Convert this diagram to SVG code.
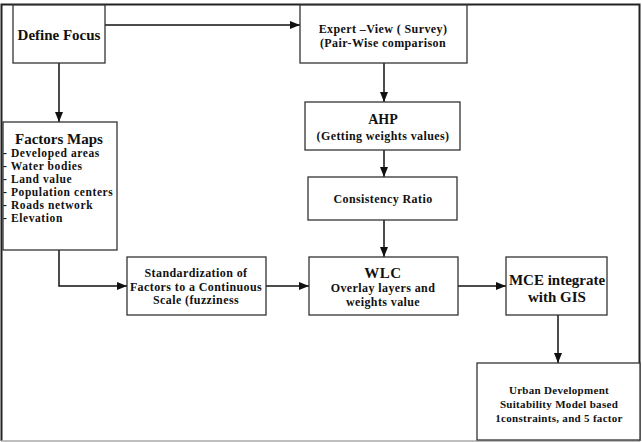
<svg xmlns="http://www.w3.org/2000/svg" width="642" height="442" viewBox="0 0 642 442">
<defs>
<style>
.box{fill:#fff;stroke:#333;stroke-width:1.3}
.t{font-family:"Liberation Serif","Times New Roman",serif;font-weight:bold;fill:#111;text-anchor:middle}
.s{font-size:12px;letter-spacing:0.4px}
.l{font-family:"Liberation Serif","Times New Roman",serif;font-weight:bold;fill:#111;text-anchor:start;font-size:11.5px;letter-spacing:0.6px}
.c{fill:none;stroke:#111;stroke-width:1.5}
</style>
<marker id="ah" markerWidth="10" markerHeight="8" refX="10" refY="4" orient="auto" markerUnits="userSpaceOnUse">
<path d="M0,0 L10,4 L0,8 Z" fill="#111"/>
</marker>
</defs>
<rect width="642" height="442" fill="#fff"/>
<path d="M1.5,441 V4.5 H639.5 V441" fill="none" stroke="#222" stroke-width="2"/>
<line x1="1" y1="441" x2="640" y2="441" stroke="#aaa" stroke-width="1.5"/>

<g id="connectors">
<path class="c" d="M105,25 H300" marker-end="url(#ah)"/>
<path class="c" d="M59,63 V122" marker-end="url(#ah)"/>
<path class="c" d="M384,63 V102" marker-end="url(#ah)"/>
<path class="c" d="M384,150 V177" marker-end="url(#ah)"/>
<path class="c" d="M384,220 V257" marker-end="url(#ah)"/>
<path class="c" d="M59,250 V286 H127" marker-end="url(#ah)"/>
<path class="c" d="M266,286 H309" marker-end="url(#ah)"/>
<path class="c" d="M458,286 H506" marker-end="url(#ah)"/>
<path class="c" d="M558,315 V363" marker-end="url(#ah)"/>
</g>

<g id="define-focus">
<rect class="box" x="13" y="5" width="92" height="58"/>
<text class="t" x="59" y="40" font-size="15">Define Focus</text>
</g>

<g id="expert-view">
<rect class="box" x="300" y="5" width="167" height="58"/>
<text class="t s" x="383" y="33">Expert –View ( Survey)</text>
<text class="t s" x="383" y="47">(Pair-Wise comparison</text>
</g>

<g id="ahp">
<rect class="box" x="305" y="102" width="155" height="48"/>
<text class="t" x="383" y="124" font-size="14">AHP</text>
<text class="t s" x="383" y="140">(Getting weights values)</text>
</g>

<g id="consistency">
<rect class="box" x="308" y="177" width="149" height="43"/>
<text class="t s" x="383" y="203">Consistency Ratio</text>
</g>

<g id="factors-maps">
<rect class="box" x="3" y="122" width="114" height="128"/>
<text class="t" x="59" y="144" font-size="15">Factors Maps</text>
<text class="l" x="3" y="157">- Developed areas</text>
<text class="l" x="3" y="170">- Water bodies</text>
<text class="l" x="3" y="183">- Land value</text>
<text class="l" x="3" y="196">- Population centers</text>
<text class="l" x="3" y="209">- Roads network</text>
<text class="l" x="3" y="222">- Elevation</text>
</g>

<g id="standardization">
<rect class="box" x="127" y="257" width="139" height="58"/>
<text class="t s" x="196" y="277">Standardization of</text>
<text class="t s" x="196" y="291">Factors to a Continuous</text>
<text class="t s" x="196" y="304">Scale (fuzziness</text>
</g>

<g id="wlc">
<rect class="box" x="309" y="257" width="149" height="58"/>
<text class="t" x="383" y="278" font-size="15" letter-spacing="0.5">WLC</text>
<text class="t s" x="383" y="292">Overlay  layers and</text>
<text class="t s" x="383" y="306">weights value</text>
</g>

<g id="mce">
<rect class="box" x="506" y="257" width="101" height="58"/>
<text class="t" x="557" y="285" font-size="15">MCE integrate</text>
<text class="t" x="557" y="302" font-size="15">with GIS</text>
</g>

<g id="urban-model">
<rect class="box" x="477" y="363" width="163" height="77"/>
<text class="t" x="559" y="394" font-size="11" letter-spacing="0.3">Urban Development</text>
<text class="t" x="559" y="408" font-size="11" letter-spacing="0.3">Suitability Model based</text>
<text class="t" x="559" y="422" font-size="11" letter-spacing="0.3">1constraints, and 5 factor</text>
</g>
</svg>
